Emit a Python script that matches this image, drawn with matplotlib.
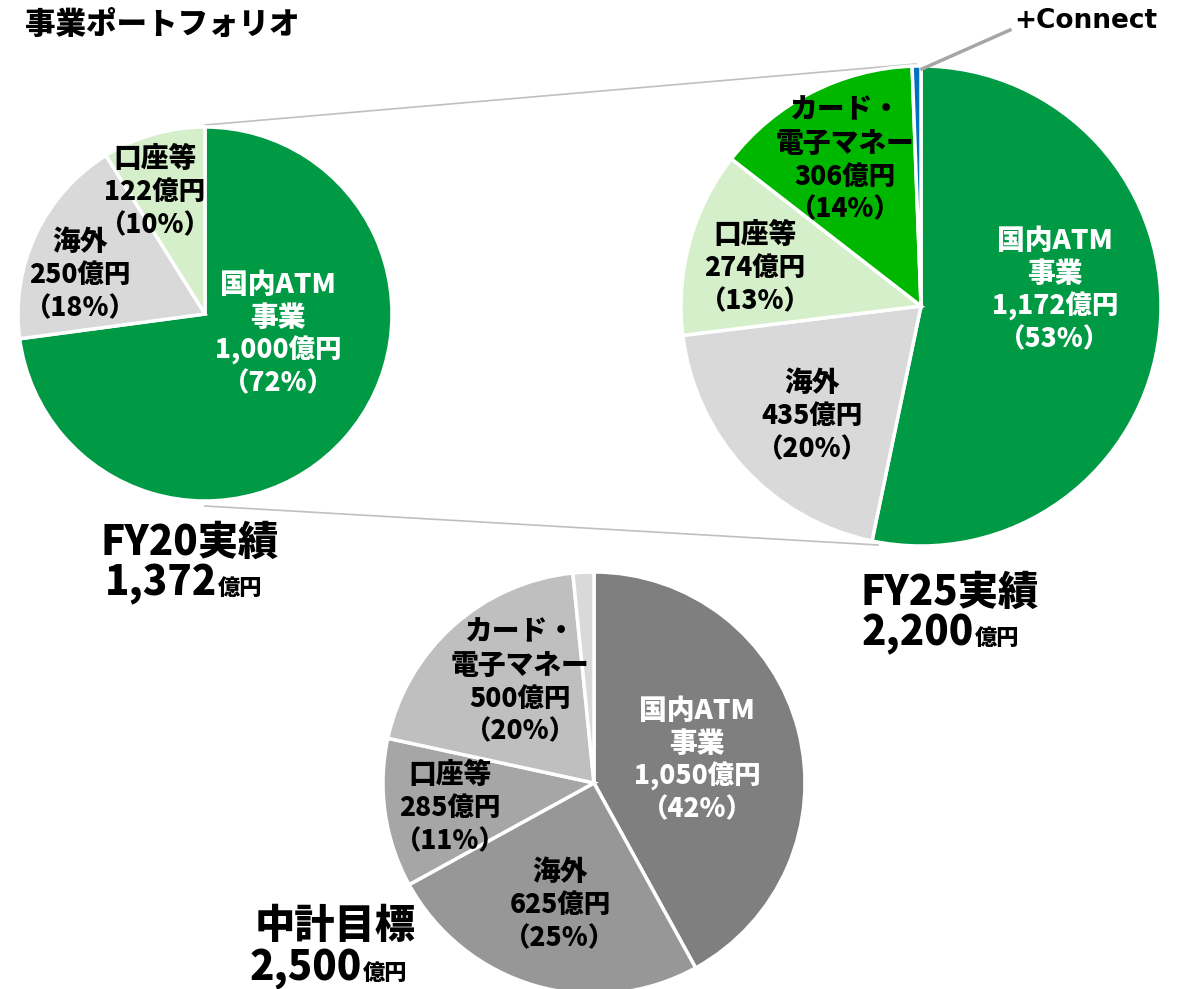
import matplotlib.pyplot as plt

plt.rcParams['font.family'] = ['Noto Sans CJK JP', 'DejaVu Sans']
plt.rcParams['font.weight'] = 'heavy'

# FY20実績
fy20_names = ['国内ATM\n事業', '海外', '口座等']
fy20_values = [1000, 250, 122]
fy20_pcts = [72, 18, 10]
fy20_total = 1372

# FY25実績
fy25_names = ['国内ATM\n事業', '海外', '口座等', 'カード・\n電子マネー', '+Connect']
fy25_values = [1172, 435, 274, 306, 13]
fy25_pcts = [53, 20, 13, 14, None]
fy25_total = 2200

# 中計目標
plan_names = ['国内ATM\n事業', '海外', '口座等', 'カード・\n電子マネー', '']
plan_values = [1050, 625, 285, 500, 40]
plan_pcts = [42, 25, 11, 20, None]
plan_total = 2500

W, H = 1197, 989
LINE = 33

fig = plt.figure(figsize=(W / 100, H / 100), dpi=100)
ax = fig.add_axes([0, 0, 1, 1])


def draw_pie(values, colors, cx, cy, r):
    ax.pie(values, colors=colors, center=(cx, H - cy), radius=r,
           startangle=90, counterclock=False, frame=False,
           wedgeprops=dict(edgecolor='white', linewidth=2.5))


def draw_labels(names, values, pcts, positions, tcolors):
    for name, v, p, pos, c in zip(names, values, pcts, positions, tcolors):
        if pos is None:
            continue
        name_lines = name.split('\n')
        lines = name_lines + [f'{v:,}億円', f'（{p}%）']
        n = len(lines)
        for i, line in enumerate(lines):
            y = pos[1] + (i - (n - 1) / 2) * LINE
            size = 20 if i < len(name_lines) else 19
            ax.text(pos[0], H - y, line, ha='center', va='center',
                    fontsize=size, color=c)


# connector lines between FY20 and FY25
ax.plot([205, 916], [H - 125, H - 64], color='#BFBFBF', lw=1.2, zorder=0)
ax.plot([205, 878], [H - 506, H - 545], color='#BFBFBF', lw=1.2, zorder=0)

draw_pie(fy20_values, ['#009944', '#D9D9D9', '#D5EFCB'], 205, 314, 187)
draw_pie(fy25_values, ['#009944', '#D9D9D9', '#D5EFCB', '#00B700', '#0070C0'],
         921, 306, 240)
draw_pie(plan_values, ['#7F7F7F', '#979797', '#A6A6A6', '#BFBFBF', '#D9D9D9'],
         594, 783, 211)

ax.set_xlim(0, W)
ax.set_ylim(0, H)
ax.set_aspect('equal')
ax.axis('off')

draw_labels(fy20_names, fy20_values, fy20_pcts,
            [(278, 334), (80, 275), (155, 192)],
            ['white', 'black', 'black'])
draw_labels(fy25_names, fy25_values, fy25_pcts,
            [(1055, 290), (812, 416), (755, 268), (845, 160), None],
            ['white', 'black', 'black', 'black', 'black'])
draw_labels(plan_names, plan_values, plan_pcts,
            [(697, 760), (560, 905), (450, 808), (520, 682), None],
            ['white', 'black', 'black', 'black', 'black'])

# +Connect callout
ax.plot([922, 1010], [H - 69, H - 30], color='#A6A6A6', lw=2.5)
ax.text(1014, H - 21, fy25_names[4], ha='left', va='center', fontsize=19,
        family='DejaVu Sans', fontweight='bold')

ax.text(25, H - 24, '事業ポートフォリオ', ha='left', va='center', fontsize=22)

renderer = fig.canvas.get_renderer()


def headline(x1, y1, title, x2, y2, total):
    ax.text(x1, H - y1, title, ha='left', va='baseline', fontsize=29)
    t = ax.text(x2, H - y2, f'{total:,}', ha='left', va='baseline', fontsize=29)
    bb = t.get_window_extent(renderer=renderer)
    ux = ax.transData.inverted().transform((bb.x1, bb.y0))[0]
    ax.text(ux + 1, H - y2, '億円', ha='left', va='baseline', fontsize=16)


headline(100, 555, 'FY20実績', 105, 595, fy20_total)
headline(860, 605, 'FY25実績', 862, 645, fy25_total)
headline(255, 938, '中計目標', 250, 980, plan_total)

fig.savefig('out.png', dpi=100)
